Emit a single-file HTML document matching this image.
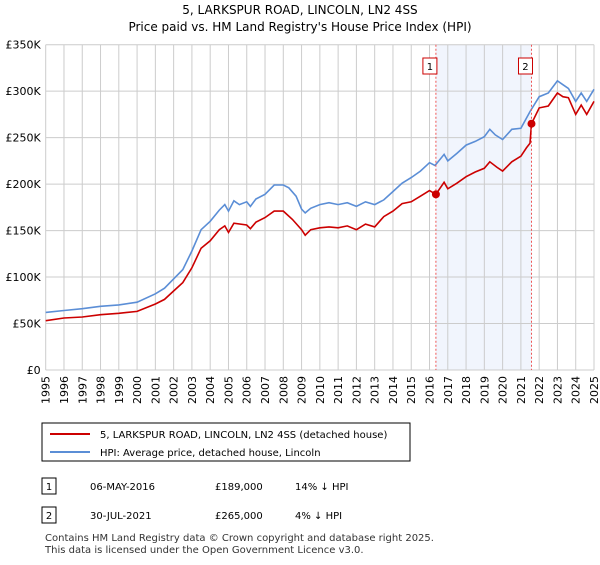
<!DOCTYPE html>
<html><head><meta charset="utf-8"><style>
body{margin:0;background:#fff;font-family:"Liberation Sans","DejaVu Sans",sans-serif;}
svg text{font-family:"DejaVu Sans","Liberation Sans",sans-serif;}
</style></head><body>
<svg width="600" height="560" xmlns="http://www.w3.org/2000/svg">
<text x="300" y="14" font-size="12" text-anchor="middle">5, LARKSPUR ROAD, LINCOLN, LN2 4SS</text>
<text x="300" y="31" font-size="12" text-anchor="middle">Price paid vs. HM Land Registry's House Price Index (HPI)</text>
<g id="plot"></g>
<g>
<rect x="42" y="423" width="368" height="38" fill="#fff" stroke="#000" stroke-width="1"/>
<line x1="50" y1="434" x2="90" y2="434" stroke="#cc0000" stroke-width="2"/>
<text x="100" y="438" font-size="10">5, LARKSPUR ROAD, LINCOLN, LN2 4SS (detached house)</text>
<line x1="50" y1="452" x2="90" y2="452" stroke="#5b8ed6" stroke-width="2"/>
<text x="100" y="456" font-size="10">HPI: Average price, detached house, Lincoln</text>
</g>
<g font-size="10">
<rect x="42" y="478" width="14" height="16" fill="#fff" stroke="#000"/><text x="49" y="490" text-anchor="middle">1</text>
<text x="90" y="490">06-MAY-2016</text><text x="215" y="490">£189,000</text><text x="295" y="490">14% ↓ HPI</text>
<rect x="42" y="507" width="14" height="16" fill="#fff" stroke="#000"/><text x="49" y="519" text-anchor="middle">2</text>
<text x="90" y="519">30-JUL-2021</text><text x="215" y="519">£265,000</text><text x="295" y="519">4% ↓ HPI</text>
</g>
<text x="45" y="541" font-size="10" fill="#333">Contains HM Land Registry data © Crown copyright and database right 2025.</text>
<text x="45" y="553" font-size="10" fill="#333">This data is licensed under the Open Government Licence v3.0.</text>
</svg>
<script>
const hpiYears=[1995,1996,1997,1998,1999,2000,2001,2001.5,2002,2002.5,2003,2003.5,2004,2004.5,2004.8,2005,2005.3,2005.6,2006,2006.2,2006.5,2007,2007.5,2008,2008.3,2008.7,2009,2009.2,2009.5,2010,2010.5,2011,2011.5,2012,2012.5,2013,2013.5,2014,2014.5,2015,2015.5,2016,2016.3,2016.8,2017,2017.5,2018,2018.5,2019,2019.3,2019.6,2020,2020.5,2021,2021.5,2022,2022.5,2023,2023.3,2023.6,2024,2024.3,2024.6,2025];
const hpiValues=[62,64,66,68.5,70,73,82,88,98,108,128,151,160,172,178,171,182,178,181,176,184,189,199,199,196,187,173,169,174,178,180,178,180,176,181,178,183,192,201,207,214,223,220,232,225,233,242,246,251,259,253,248,259,260,278,294,298,311,307,303,289,298,289,302];
const priceYears=[1995,1996,1997,1998,1999,2000,2001,2001.5,2002,2002.5,2003,2003.5,2004,2004.5,2004.8,2005,2005.3,2006,2006.2,2006.5,2007,2007.5,2008,2008.5,2009,2009.2,2009.5,2010,2010.5,2011,2011.5,2012,2012.5,2013,2013.5,2014,2014.5,2015,2015.5,2016,2016.35,2016.8,2017,2017.5,2018,2018.5,2019,2019.3,2019.7,2020,2020.5,2021,2021.3,2021.5,2021.58,2022,2022.5,2023,2023.3,2023.6,2024,2024.3,2024.6,2025];
const priceValues=[53,56,57,59.5,61,63,71,76,85,94,110,131,139,151,155,148,158,156,152,159,164,171,171,162,151,145,151,153,154,153,155,151,157,154,165,171,179,181,187,193,189,202,195,201,208,213,217,224,218,214,224,230,239,244,265,282,284,298,294,293,275,285,275,289];
const saleYears=[2016.35,2021.58];
const saleValues=[189,265];
const saleLabels=["1","2"];
const yTicks=[0,50,100,150,200,250,300,350];
const yTickLabels=["£0","£50K","£100K","£150K","£200K","£250K","£300K","£350K"];
const xTicks=[];for(let y=1995;y<=2025;y++)xTicks.push(y);

const X0=45.7,X1=594,Y0=370,Y1=44.7;
const xs=y=>X0+(y-1995)/30*(X1-X0);
const ys=v=>Y0-v/350*(Y0-Y1);
const NS="http://www.w3.org/2000/svg";
const g=document.getElementById('plot');
function mk(t,a,p){const e=document.createElementNS(NS,t);for(const k in a)e.setAttribute(k,a[k]);(p||g).appendChild(e);return e;}
// shaded region
const sh=mk('rect',{x:xs(saleYears[0]),y:Y1,width:xs(saleYears[1])-xs(saleYears[0]),height:Y0-Y1,fill:'#eef3fc',opacity:0.8});


// grid
xTicks.forEach(y=>{
 const l=mk('line',{x1:xs(y),x2:xs(y),y1:Y1,y2:Y0,stroke:'#cccccc','stroke-width':1});
 
 
 const t=mk('text',{x:0,y:0,'font-size':11,'text-anchor':'end',transform:`translate(${xs(y)+4},${Y0+6}) rotate(-90)`});
 t.textContent=y;
 
 
});
yTicks.forEach((v,i)=>{
 const l=mk('line',{x1:X0,x2:X1,y1:ys(v),y2:ys(v),stroke:'#cccccc','stroke-width':1});
 
 
 const t=mk('text',{x:X0-5,y:ys(v)+4,'font-size':11,'text-anchor':'end'});
 t.textContent=yTickLabels[i];
 
 
});
function path(xa,va,c,n){
 const d=xa.map((y,i)=>(i?'L':'M')+xs(y).toFixed(1)+','+ys(va[i]).toFixed(1)).join('');
 const p=mk('path',{d:d,fill:'none',stroke:c,'stroke-width':1.6});
 
 
}
path(hpiYears,hpiValues,'#5b8ed6','hpi-line');
path(priceYears,priceValues,'#cc0000','price-line');
saleYears.forEach((y,i)=>{
 const l=mk('line',{x1:xs(y),x2:xs(y),y1:Y1,y2:Y0,stroke:'#ee5555','stroke-width':1,'stroke-dasharray':'2,2'});
 
 
 const c=mk('circle',{cx:xs(y),cy:ys(saleValues[i]),r:4,fill:'#cc0000'});
 
 
 const r=mk('rect',{x:xs(y)-13,y:58,width:14,height:16,fill:'#fff',stroke:'#cc0000'});
 
 
 const t=mk('text',{x:xs(y)-6,y:70,'font-size':10,'text-anchor':'middle'});
 t.textContent=saleLabels[i];
 
 
});
</script>
</body></html>
